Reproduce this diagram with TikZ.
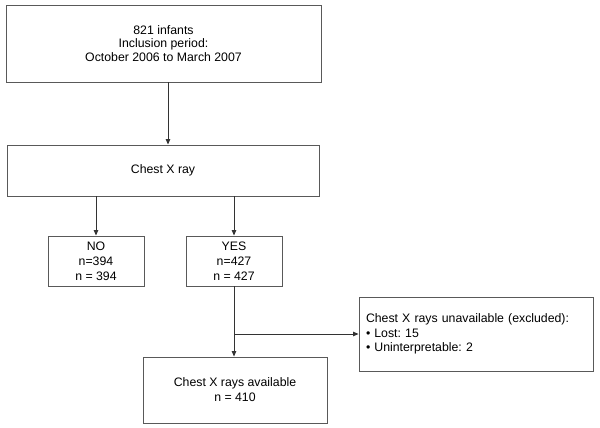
\documentclass[tikz,border=0pt]{standalone}
\usepackage{fontspec}
\setmainfont{Liberation Sans}
\usetikzlibrary{arrows.meta}
\frenchspacing
\begin{document}
\begin{tikzpicture}[x=1pt,y=-1pt,
    box/.style={draw=black!65,line width=0.9pt,fill=white,inner sep=0pt,align=center,
      font=\fontsize{12.3}{14.8}\selectfont},
    arr/.style={draw=black!80,line width=0.8pt,-{Triangle[length=5.5pt,width=4.5pt]}}]
  \useasboundingbox (0,0) rectangle (600,428);
  % boxes
  \node[box,minimum width=315,minimum height=77,font=\fontsize{12.3}{13.6}\selectfont] (infants) at (163.5,43.5)
    {821 infants\\Inclusion period:\\October 2006 to March 2007};
  \node[box,minimum width=312,minimum height=51] (xray) at (163,170.5) {Chest X ray};
  \node[box,minimum width=96,minimum height=50] (no) at (96,261) {NO\\n=394\\n = 394};
  \node[box,minimum width=96,minimum height=50] (yes) at (234,261) {YES\\n=427\\n = 427};
  \node[box,minimum width=184,minimum height=66] (avail) at (235,390)
    {Chest X rays available\\n = 410};
  \node[box,minimum width=234,minimum height=74,align=left,text width=220] (excl) at (476,334)
    {Chest X rays unavailable (excluded):\\\textbullet{} Lost: 15\\\textbullet{} Uninterpretable: 2};
  % arrows
  \draw[arr] ([xshift=4.5]infants.south) -- ([xshift=4.5]infants.south |- xray.north);
  \draw[arr] (no.north |- xray.south) -- (no.north);
  \draw[arr] (yes.north |- xray.south) -- (yes.north);
  \draw[arr] (yes.south) -- (yes.south |- avail.north);
  \coordinate (split) at (yes.south |- excl.west);
  \draw[arr] (split) -- (excl.west);
\end{tikzpicture}
\end{document}
